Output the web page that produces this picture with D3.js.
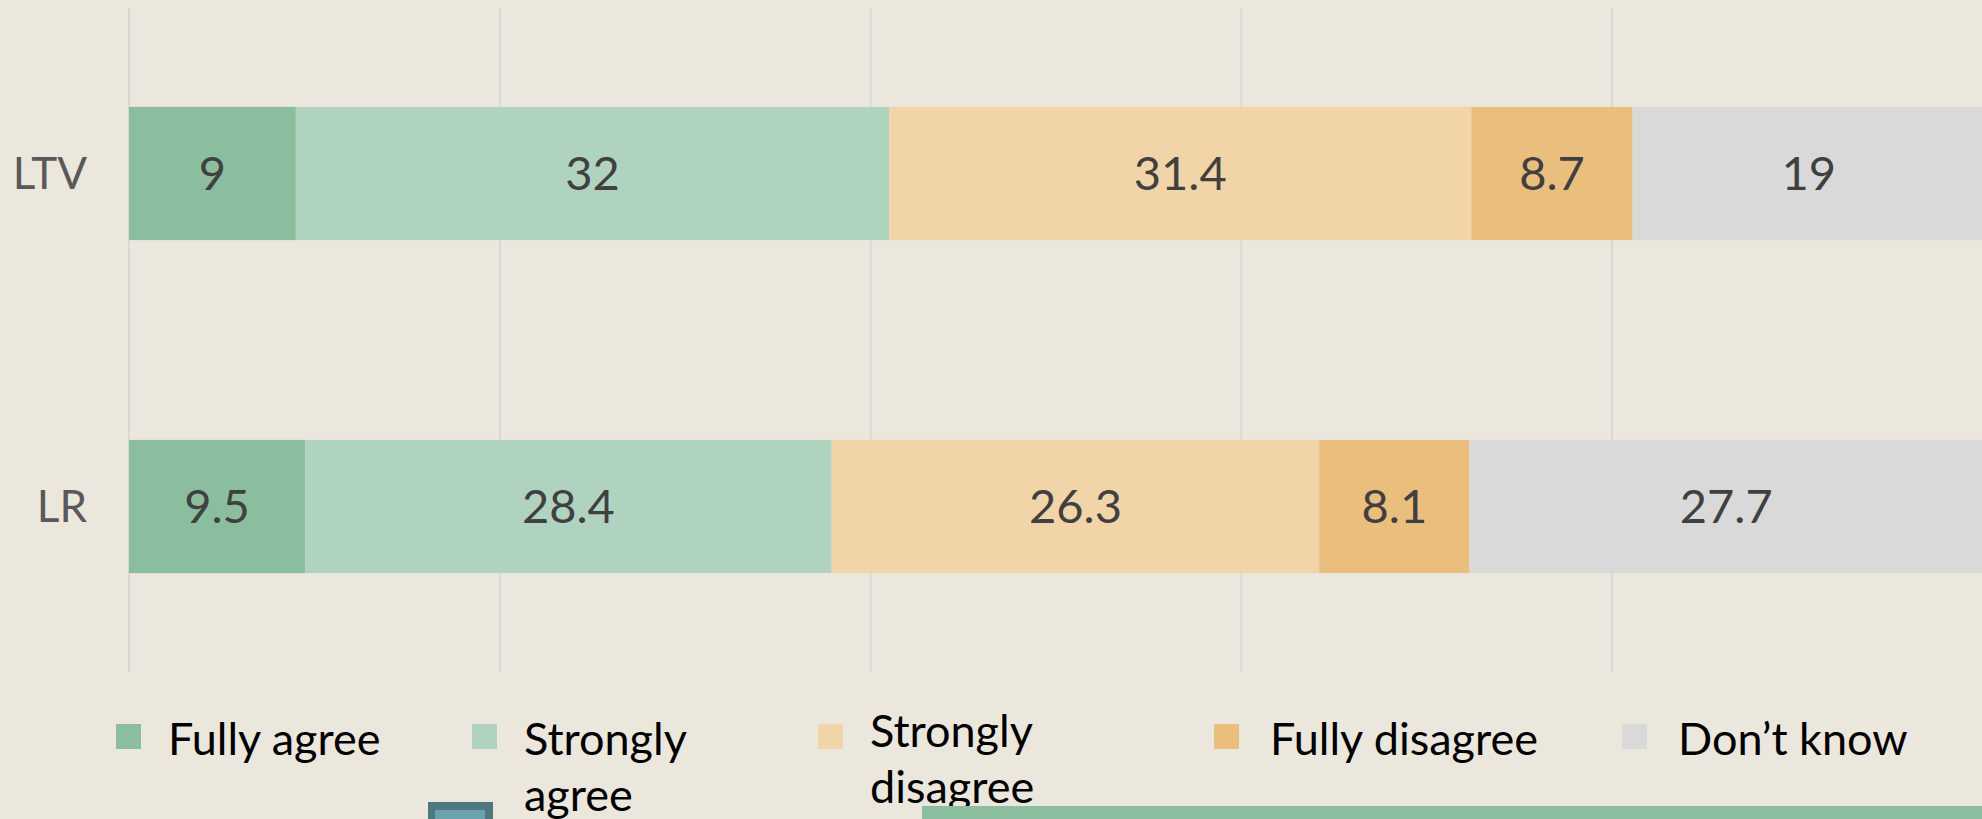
<!DOCTYPE html>
<html>
<head>
<meta charset="utf-8">
<script src="https://cdn.jsdelivr.net/npm/d3@7"></script>
<style>
  body { margin: 0; background: #EBE7DD; }
  svg { display: block; }
  text { font-family: Lato, "Liberation Sans", sans-serif; }
</style>
</head>
<body>
<svg id="Viz" width="1982" height="819"></svg>
<script>
var categories = ["LTV", "LR"];
var seriesNames = ["Fully agree", "Strongly agree", "Strongly disagree", "Fully disagree", "Don\u2019t know"];
var fullyAgree = [9, 9.5];
var stronglyAgree = [32, 28.4];
var stronglyDisagree = [31.4, 26.3];
var fullyDisagree = [8.7, 8.1];
var dontKnow = [19, 27.7];
var tickValues = [0, 20, 40, 60, 80, 100];

var colors = ["#8ABE9E", "#B0D3BF", "#F1D4A7", "#EABE7D", "#D9D9D9"];

var svg = d3.select("#Viz"),
    width = +svg.attr("width"),
    height = +svg.attr("height");

var seriesValues = [fullyAgree, stronglyAgree, stronglyDisagree, fullyDisagree, dontKnow];
var rows = categories.map(function(c, i) {
  var r = { cat: c };
  seriesNames.forEach(function(s, j) { r[s] = seriesValues[j][i]; });
  return r;
});

var x = d3.scaleLinear().domain([0, 100]).range([129, 1983]);
var y = d3.scaleBand().domain(categories).range([8, 672])
  .paddingInner(0.6).paddingOuter(0.297);

// grid
svg.append("g")
  .selectAll("line")
  .data(tickValues)
  .enter().append("line")
  .attr("x1", function(d) { return x(d); })
  .attr("x2", function(d) { return x(d); })
  .attr("y1", 8)
  .attr("y2", 672)
  .attr("stroke", "#D8D8D6")
  .attr("stroke-width", 2);

var stack = d3.stack().keys(seriesNames)(rows);

var layer = svg.append("g")
  .selectAll("g")
  .data(stack)
  .enter().append("g")
  .attr("fill", function(d, i) { return colors[i]; });

layer.selectAll("rect")
  .data(function(d) { return d; })
  .enter().append("rect")
  .attr("x", function(d) { return x(d[0]); })
  .attr("width", function(d) { return x(d[1]) - x(d[0]); })
  .attr("y", function(d) { return y(d.data.cat); })
  .attr("height", y.bandwidth());

layer.selectAll("text")
  .data(function(d) { return d.map(function(p) { return { p: p, key: d.key }; }); })
  .enter().append("text")
  .attr("x", function(d) { return (x(d.p[0]) + x(d.p[1])) / 2; })
  .attr("y", function(d) { return y(d.p.data.cat) + y.bandwidth() / 2; })
  .attr("dy", "0.36em")
  .attr("text-anchor", "middle")
  .attr("fill", "#404040")
  .attr("font-size", 47)
  .text(function(d) { return d.p.data[d.key]; });

// category labels
svg.append("g")
  .selectAll("text")
  .data(categories)
  .enter().append("text")
  .attr("x", 87)
  .attr("y", function(d) { return y(d) + y.bandwidth() / 2; })
  .attr("dy", "0.36em")
  .attr("text-anchor", "end")
  .attr("fill", "#595959")
  .attr("font-size", 44)
  .text(function(d) { return d; });

// legend
var legendX = [116, 472, 818, 1214, 1622];
var legendLines = [["Fully agree"], ["Strongly", "agree"], ["Strongly", "disagree"], ["Fully disagree"], ["Don\u2019t know"]];
var legendBase = [755, 755, 747, 755, 755];

var lg = svg.append("g")
  .selectAll("g")
  .data(seriesNames)
  .enter().append("g");

lg.append("rect")
  .attr("x", function(d, i) { return legendX[i]; })
  .attr("y", 724)
  .attr("width", 25)
  .attr("height", 25)
  .attr("fill", function(d, i) { return colors[i]; });

lg.append("text")
  .attr("fill", "#000")
  .attr("font-size", 45)
  .each(function(d, i) {
    var t = d3.select(this);
    legendLines[i].forEach(function(line, k) {
      t.append("tspan")
        .attr("x", legendX[i] + (i >= 3 ? 56 : 52))
        .attr("y", legendBase[i] + k * 56)
        .text(line);
    });
  });

// pieces of the next panel peeking in at the bottom
svg.append("rect").attr("x", 428).attr("y", 802).attr("width", 65).attr("height", 30).attr("fill", "#4E7880");
svg.append("rect").attr("x", 435).attr("y", 810).attr("width", 50).attr("height", 20).attr("fill", "#6BA3AC");
svg.append("rect").attr("x", 922).attr("y", 806).attr("width", 1060).attr("height", 20).attr("fill", "#8ABE9E");
</script>
</body>
</html>
